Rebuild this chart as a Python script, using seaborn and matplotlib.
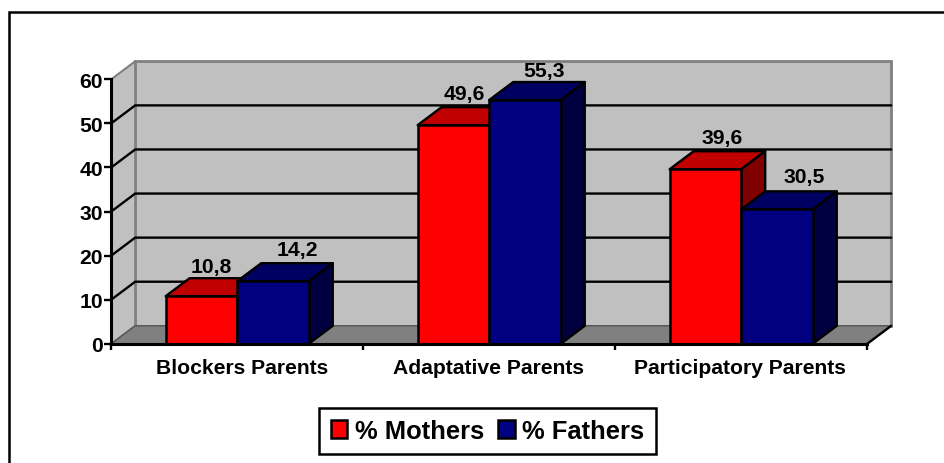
import matplotlib
matplotlib.use("Agg")
import matplotlib.pyplot as plt
from matplotlib.lines import Line2D
from matplotlib.patches import Polygon, Patch
from matplotlib.transforms import ScaledTranslation
import pandas as pd
import seaborn as sns

categories = ["Blockers Parents", "Adaptative Parents", "Participatory Parents"]
mothers = [10.8, 49.6, 39.6]
fathers = [14.2, 55.3, 30.5]
series_names = ["% Mothers", "% Fathers"]
label_text = {10.8: "10,8", 14.2: "14,2", 49.6: "49,6", 55.3: "55,3", 39.6: "39,6", 30.5: "30,5"}
y_ticks = [0, 10, 20, 30, 40, 50, 60]

sns.set_theme(style="white")
plt.rcParams["font.family"] = ["Liberation Sans", "DejaVu Sans"]
plt.rcParams["font.weight"] = "bold"
plt.rcParams["text.color"] = "black"

W, H = 945, 464
fig = plt.figure(figsize=(W / 100, H / 100), dpi=100, facecolor="white")
L, R, T, B = 111.2, 867.2, 80.3, 344.8
ax = fig.add_axes([L / W, 1 - B / H, (R - L) / W, (B - T) / H])
ax.patch.set_visible(False)

df = pd.DataFrame({
    "category": categories * 2,
    "value": mothers + fathers,
    "series": [series_names[0]] * 3 + [series_names[1]] * 3,
})
front = {series_names[0]: "#ff0000", series_names[1]: "#000080"}
sns.barplot(data=df, x="category", y="value", hue="series", order=categories,
            hue_order=series_names, palette=front, saturation=1, width=0.568, gap=0,
            edgecolor="black", linewidth=1.8, legend=False, ax=ax, errorbar=None)

ax.set_xlim(-0.5, 2.5)
ax.set_ylim(0, 60)
ax.set_xlabel("")
ax.set_ylabel("")

# depth of the pseudo-3D box, converted from pixels to data units
dx = 24 * 3 / (R - L)
dy = 18 * 60 / (B - T)
x0, x1 = ax.get_xlim()
y0, y1 = ax.get_ylim()

LW = 1.7
wall = "#c0c0c0"
ax.add_patch(Polygon([(x0 + dx, y0 + dy), (x1 + dx, y0 + dy), (x1 + dx, y1 + dy), (x0 + dx, y1 + dy)],
                     fc=wall, ec="#808080", lw=2, zorder=0.5, clip_on=False))
ax.add_patch(Polygon([(x0, y0), (x0 + dx, y0 + dy), (x0 + dx, y1 + dy), (x0, y1)],
                     fc=wall, ec="#808080", lw=1.5, zorder=0.5, clip_on=False))
ax.add_patch(Polygon([(x0, y0), (x1, y0), (x1 + dx, y0 + dy), (x0 + dx, y0 + dy)],
                     fc="#808080", ec="#555555", lw=1, zorder=0.6, clip_on=False))
for t in y_ticks[1:-1]:
    ax.plot([x0, x0 + dx, x1 + dx], [t, t + dy, t + dy], color="black", lw=LW, zorder=0.7,
            clip_on=False, solid_joinstyle="miter")
ax.plot([x1, x1 + dx], [y0, y0 + dy], color="black", lw=LW, zorder=0.8, clip_on=False)

# top and side faces follow each bar drawn by seaborn
tops = ["#c00000", "#000060"]
sides = ["#800000", "#000040"]
label_nudge = [[10, 12], [24, 14], [11, 14], [19, 12], [17, 14], [27, 15]]
all_bars = []
for s, cont in enumerate(ax.containers):
    for bar in cont:
        bx, bw, bh = bar.get_x(), bar.get_width(), bar.get_height()
        bar.set_zorder(3 + s + 0.2)
        ax.add_patch(Polygon([(bx, bh), (bx + bw, bh), (bx + bw + dx, bh + dy), (bx + dx, bh + dy)],
                             fc=tops[s], ec="black", lw=LW, zorder=3 + s, clip_on=False, joinstyle="round"))
        ax.add_patch(Polygon([(bx + bw, 0), (bx + bw + dx, dy), (bx + bw + dx, bh + dy), (bx + bw, bh)],
                             fc=sides[s], ec="black", lw=LW, zorder=3 + s, clip_on=False, joinstyle="round"))
        all_bars.append(bar)

for i, bar in enumerate(all_bars):
    bx, bw, bh = bar.get_x(), bar.get_width(), bar.get_height()
    ndx, ndy = label_nudge[[0, 2, 4, 1, 3, 5][i]]
    ax.annotate(label_text[round(bh, 1)], xy=(bx + bw / 2, bh + dy), xytext=(ndx, ndy),
                textcoords="offset pixels", ha="center", va="center", fontsize=15.2,
                fontweight="bold", color="black", zorder=8, annotation_clip=False)

# axes
sns.despine(ax=ax, top=True, right=True)
for side in ("left", "bottom"):
    ax.spines[side].set_color("black")
    ax.spines[side].set_linewidth(2.2)
    ax.spines[side].set_zorder(6)
ax.set_yticks(y_ticks)
ax.set_xticks([-0.5, 0.5, 1.5, 2.5])
ax.set_xticklabels([])
ax.set_xticks([0, 1, 2], minor=True)
ax.set_xticklabels(categories, minor=True)
ax.tick_params(axis="y", which="major", left=True, length=5, width=1.7, color="black",
               labelsize=15.2, pad=1, labelcolor="black")
ax.tick_params(axis="x", which="major", bottom=True, length=4, width=1.7, color="black", labelbottom=False)
ax.tick_params(axis="x", which="minor", bottom=False, length=0, labelsize=15.2, pad=10.5, labelcolor="black")
for lab in ax.get_yticklabels():
    lab.set_fontweight("bold")
nudges = [5, -1, -1]
for lab, n in zip(ax.get_xticklabels(minor=True), nudges):
    lab.set_fontweight("bold")
    lab.set_transform(lab.get_transform() + ScaledTranslation(n / 100, 0, fig.dpi_scale_trans))

# legend
handles = [Patch(fc=front[n], ec="black", lw=1.8, label=n) for n in series_names]
leg = fig.legend(handles=handles, loc="center", bbox_to_anchor=(487.5 / W, 1 - 432 / H), ncol=2,
                 frameon=True, fancybox=False, framealpha=1, edgecolor="black",
                 prop={"size": 18.4, "weight": "bold", "family": "Liberation Sans"},
                 handlelength=0.65, handleheight=0.72, handletextpad=0.3, columnspacing=0.55,
                 borderpad=0.44, borderaxespad=0, labelcolor="black")
leg.get_frame().set_linewidth(1.8)

# chart frame, cut by the right and bottom image edges
fig.add_artist(Line2D([9.5 / W, 9.5 / W, 1], [0, 1 - 12.5 / H, 1 - 12.5 / H], color="black", lw=1.8,
                      solid_joinstyle="miter"))

fig.savefig("out.png", dpi=100, facecolor="white")
